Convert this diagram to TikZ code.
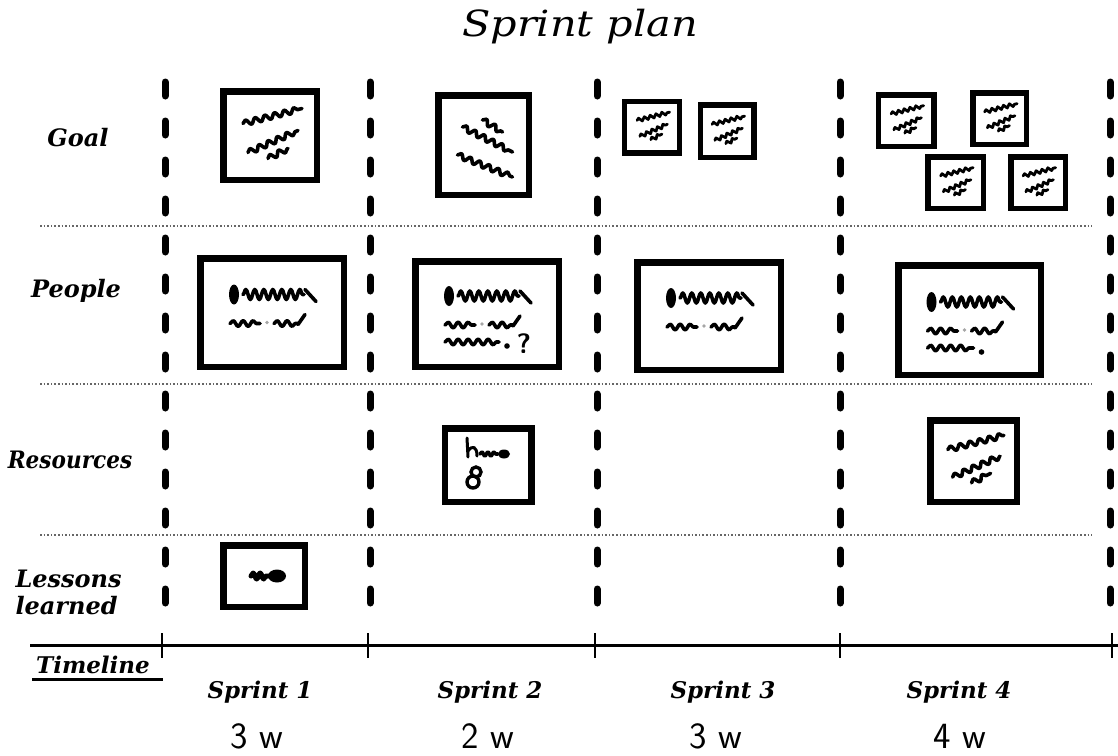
\documentclass[tikz,border=0pt]{standalone}
\usepackage{fontspec}
\usepackage{graphicx}
\usetikzlibrary{decorations.pathmorphing}
\newfontfamily\hand{DejaVu Serif}
\newcommand\widen[2]{\scalebox{#1}[1]{#2}}

\tikzset{
  card/.style 2 args={draw, line width=6.5pt, inner sep=0pt, fill=white,
    minimum width=#1, minimum height=#2},
  minicard/.style 2 args={card={#1}{#2}, line width=5.5pt},
  ink/.style={line width=3.6pt, line cap=round, line join=round},
  scrib/.style={ink, decorate,
    decoration={snake, amplitude=2.8pt, segment length=10pt}},
  colsep/.style={line width=7pt, line cap=round, dash pattern=on 14pt off 25pt},
  rowsep/.style={line width=1.6pt, black!60, dash pattern=on 1.6pt off 2pt},
  handfont/.style={font=\fontsize{#1}{#1}\selectfont\hand\bfseries\itshape},
  rowlab/.style={handfont=24, anchor=base},
  sprintlab/.style={handfont=23, anchor=base},
  weeks/.style={font=\fontsize{37}{40}\selectfont\sffamily, anchor=base},
  % three slanted scribbled lines on a goal card
  pics/goalmarks/.style={code={
    \draw[scrib] (-27,-12) -- (32,-27);
    \draw[scrib] (-22,17) -- (28,-5);
    \draw[scrib] (-2,23) -- (18,13);
  }},
  pics/goalmarksdown/.style={code={
    \draw[scrib] (-1,-25) -- (19,-13);
    \draw[scrib] (-21,-18) -- (29,7);
    \draw[scrib] (-26,10) -- (29,32);
  }},
  % two scribbled lines on a people card
  pics/peoplemarks/.style={code={
    \fill (-38,-18) ellipse [x radius=5pt, y radius=10pt];
    \draw[scrib, decoration={amplitude=5pt, segment length=9pt}] (-29,-18) -- (32,-18);
    \draw[ink] (33,-23) -- (44,-11);
    \draw[scrib] (-42,11) -- (-12,11);
    \fill[black!35] (-5,10) circle [radius=1.8pt];
    \draw[scrib] (2,11) -- (26,11);
    \draw[ink] (26,12) -- (33,2);
  }},
}

\begin{document}
\begin{tikzpicture}[x=1pt, y=-1pt]
\useasboundingbox (0,0) rectangle (1118,755);

% title
\node[font=\fontsize{36}{40}\selectfont\hand\itshape, anchor=base] (title) at (580,36)
  {\widen{1.15}{Sprint plan}};

% sprint columns and swim lanes
\foreach \x in {165,370,597,840,1110}
  \draw[colsep] (\x,82) -- (\x,612);
\foreach \y in {226,384,535}
  \draw[rowsep] (40,\y) -- (1092,\y);

% lane names
\node[rowlab] (goal) at (78,146) {Goal};
\node[rowlab] (people) at (76,297) {People};
\node[rowlab] (resources) at (70,468) {\widen{0.9}{Resources}};
\node[rowlab, anchor=base west] (lessons) at (12,587) {Lessons};
\node[rowlab, anchor=base west] (learned) at (12,614) {learned};

% goal cards
\node[card={93.5pt}{88.5pt}] (g1) at (270,135.5) {};
\node[card={90.5pt}{99.5pt}] (g2) at (483.5,145) {};
\node[minicard={55pt}{51.5pt}] (g3a) at (652,127) {};
\node[minicard={53.5pt}{52.5pt}] (g3b) at (727,131) {};
\node[minicard={55.5pt}{51.5pt}] (g4a) at (906,120.5) {};
\node[minicard={53.5pt}{51.5pt}] (g4b) at (999.5,118.5) {};
\node[minicard={55.5pt}{51.5pt}] (g4c) at (955.5,182.5) {};
\node[minicard={54.5pt}{51.5pt}] (g4d) at (1038,182.5) {};
\pic at (g1.center) {goalmarks};
\pic at (g2.center) {goalmarksdown};
\foreach \c in {g3a,g3b,g4a,g4b,g4c,g4d}
  \pic[scale=0.55, scrib/.append style={line width=2.8pt,
      decoration={amplitude=1.8pt, segment length=6pt}}] at (\c.center) {goalmarks};

% people cards
\node[card={143.5pt}{108.5pt}] (p1) at (272,312.5) {};
\node[card={143.5pt}{105.5pt}] (p2) at (487,314) {};
\node[card={143.5pt}{107.5pt}] (p3) at (709,316) {};
\node[card={142.5pt}{109.5pt}] (p4) at (969.5,320) {};
\foreach \c in {p1,p2,p3,p4}
  \pic at (\c.center) {peoplemarks};
\begin{scope}[shift={(p2.center)}]
  \draw[scrib] (-42,28) -- (12,28);
  \fill (20,32) circle [radius=2.8pt];
  \node[font=\fontsize{28}{30}\selectfont\bfseries\sffamily] (ask) at (37,30) {?};
\end{scope}
\begin{scope}[shift={(p4.center)}]
  \draw[scrib] (-42,28) -- (4,28);
  \fill (12,32) circle [radius=2.8pt];
\end{scope}

% resource cards
\node[card={86.5pt}{73.5pt}] (r2) at (488,465) {};
\node[card={86.5pt}{81.5pt}] (r4) at (973.5,461) {};
\begin{scope}[shift={(r2.center)}]
  \draw[ink, line width=3pt] (-21,-27) -- (-20,-8);
  \draw[ink, line width=3pt] (-20,-14) .. controls (-16,-20) and (-11,-19) .. (-11,-9);
  \draw[scrib, decoration={amplitude=2pt, segment length=6pt}] (-8,-11) -- (10,-11);
  \fill (16,-11) ellipse [x radius=6pt, y radius=4.5pt];
  \draw[line width=3.4pt] (-12,7) circle [radius=5pt];
  \draw[line width=3.4pt] (-15,17) circle [radius=6pt];
\end{scope}
\pic[scale=0.95] at (r4.center) {goalmarks};

% lessons card
\node[card={81.5pt}{61.5pt}] (l1) at (264,576) {};
\begin{scope}[shift={(l1.center)}]
  \draw[scrib, line width=5pt, decoration={amplitude=3pt, segment length=7pt}] (-13,0) -- (4,0);
  \fill (13,0) ellipse [x radius=9pt, y radius=6.5pt];
\end{scope}

% timeline
\coordinate (tl0) at (30,645);
\coordinate (tl1) at (1118,645);
\draw[line width=3pt] (tl0) -- (tl1);
\foreach \x in {162,368,595,840,1112}
  \draw[line width=2.5pt] (\x,633) -- (\x,658);
\node[handfont=23, anchor=base] (timeline) at (93,673) {Timeline};
\draw[line width=3pt] (32,679) -- (163,679);

% sprint names and lengths
\node[sprintlab] (s1) at (260,698) {Sprint 1};
\node[sprintlab] (s2) at (490,698) {Sprint 2};
\node[sprintlab] (s3) at (723,698) {Sprint 3};
\node[sprintlab] (s4) at (959,698) {Sprint 4};
\node[weeks] (w1) at (257,748) {3 w};
\node[weeks] (w2) at (488,748) {2 w};
\node[weeks] (w3) at (716,748) {3 w};
\node[weeks] (w4) at (960,748) {4 w};
\end{tikzpicture}
\end{document}
